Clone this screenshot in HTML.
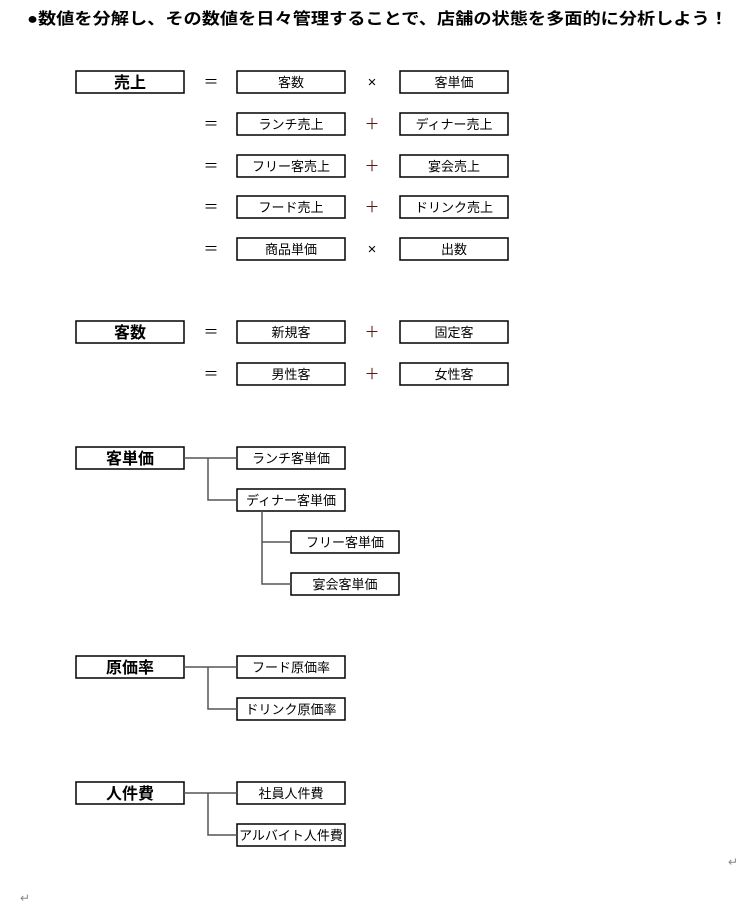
<!DOCTYPE html>
<html><head><meta charset="utf-8"><style>
body{margin:0;background:#fff;width:741px;height:917px;overflow:hidden}
text{font-family:"Liberation Sans","Noto Sans CJK JP",sans-serif}
</style></head><body>
<svg width="741" height="917" viewBox="0 0 741 917" xmlns="http://www.w3.org/2000/svg">
<text x="27" y="24" font-size="16" font-weight="bold" textLength="701" lengthAdjust="spacingAndGlyphs">●数値を分解し、その数値を日々管理することで、店舗の状態を多面的に分析しよう！</text>
<g fill="none" stroke="#000" stroke-width="1.5">
<rect x="76" y="71" width="108" height="22"/>
<rect x="76" y="321" width="108" height="22"/>
<rect x="76" y="447" width="108" height="22"/>
<rect x="76" y="656" width="108" height="22"/>
<rect x="76" y="782" width="108" height="22"/>
<rect x="237" y="71" width="108" height="22"/><rect x="400" y="71" width="108" height="22"/>
<rect x="237" y="113" width="108" height="22"/><rect x="400" y="113" width="108" height="22"/>
<rect x="237" y="155" width="108" height="22"/><rect x="400" y="155" width="108" height="22"/>
<rect x="237" y="196" width="108" height="22"/><rect x="400" y="196" width="108" height="22"/>
<rect x="237" y="238" width="108" height="22"/><rect x="400" y="238" width="108" height="22"/>
<rect x="237" y="321" width="108" height="22"/><rect x="400" y="321" width="108" height="22"/>
<rect x="237" y="363" width="108" height="22"/><rect x="400" y="363" width="108" height="22"/>
<rect x="237" y="447" width="108" height="22"/>
<rect x="237" y="489" width="108" height="22"/>
<rect x="291" y="531" width="108" height="22"/>
<rect x="291" y="573" width="108" height="22"/>
<rect x="237" y="656" width="108" height="22"/>
<rect x="237" y="698" width="108" height="22"/>
<rect x="237" y="782" width="108" height="22"/>
<rect x="237" y="824" width="108" height="22"/>
</g>
<g fill="none" stroke="#555" stroke-width="1.5">
<path d="M184 458H237M208 458V500H237"/>
<path d="M262 511V584H291M262 542H291"/>
<path d="M184 667H237M208 667V709H237"/>
<path d="M184 793H237M208 793V835H237"/>
</g>
<g font-size="16" font-weight="bold" text-anchor="middle">
<text x="130" y="88">売上</text><text x="130" y="338">客数</text><text x="130" y="464">客単価</text><text x="130" y="673">原価率</text><text x="130" y="799">人件費</text>
</g>
<g font-size="13" text-anchor="middle">
<text x="291" y="87">客数</text><text x="454" y="87">客単価</text>
<text x="291" y="129">ランチ売上</text><text x="454" y="129">ディナー売上</text>
<text x="291" y="171">フリー客売上</text><text x="454" y="171">宴会売上</text>
<text x="291" y="212">フード売上</text><text x="454" y="212">ドリンク売上</text>
<text x="291" y="254">商品単価</text><text x="454" y="254">出数</text>
<text x="291" y="337">新規客</text><text x="454" y="337">固定客</text>
<text x="291" y="379">男性客</text><text x="454" y="379">女性客</text>
<text x="291" y="463">ランチ客単価</text><text x="291" y="505">ディナー客単価</text>
<text x="345" y="547">フリー客単価</text><text x="345" y="589">宴会客単価</text>
<text x="291" y="672">フード原価率</text><text x="291" y="714">ドリンク原価率</text>
<text x="291" y="798">社員人件費</text><text x="291" y="840">アルバイト人件費</text>
</g>
<g font-size="15" text-anchor="middle">
<text x="211" y="87">＝</text><text x="211" y="129">＝</text><text x="211" y="171">＝</text><text x="211" y="212">＝</text><text x="211" y="254">＝</text><text x="211" y="337">＝</text><text x="211" y="379">＝</text>
<text x="372" y="87">×</text><text x="372" y="254">×</text>
<g fill="#5a1a10"><text x="372" y="129">＋</text><text x="372" y="171">＋</text><text x="372" y="212">＋</text><text x="372" y="337">＋</text><text x="372" y="379">＋</text></g>
</g>
<g fill="#888" font-size="12"><text x="728" y="866">↵</text><text x="20" y="902">↵</text></g>
</svg>
</body></html>
